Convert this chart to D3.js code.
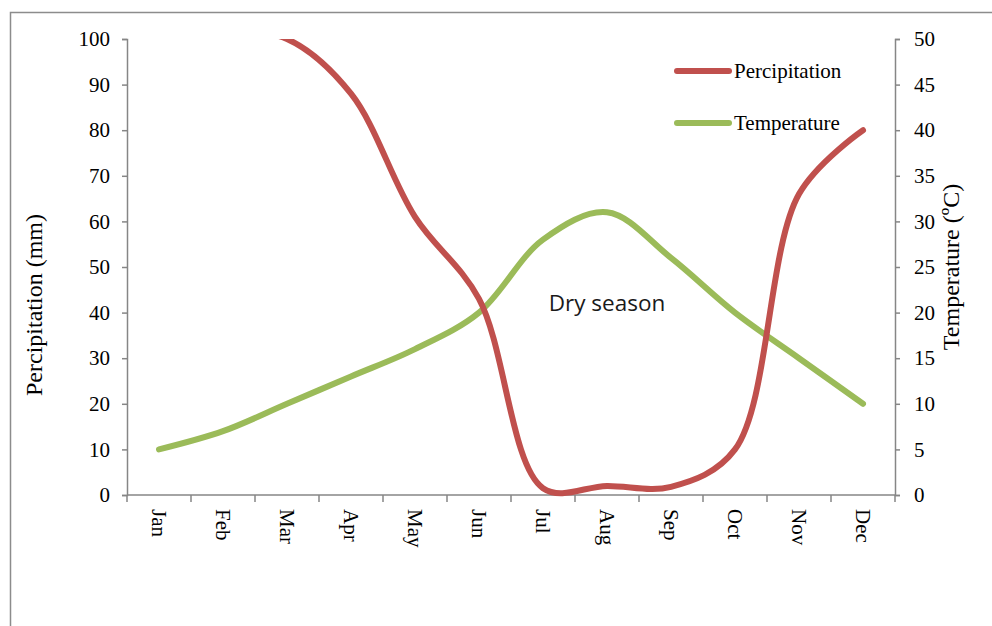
<!DOCTYPE html>
<html>
<head>
<meta charset="utf-8">
<script src="https://cdn.jsdelivr.net/npm/d3@7"></script>
<style>
  html, body { margin: 0; padding: 0; background: #fff; }
  svg { display: block; }
</style>
</head>
<body>
<svg id="chart" width="992" height="626"></svg>
<script>
const months = ["Jan","Feb","Mar","Apr","May","Jun","Jul","Aug","Sep","Oct","Nov","Dec"];
const precipitation = [104, 102, 100, 88, 61, 43, 1.5, 2, 1.8, 10, 66, 80];
const temperature = [5, 7, 10, 13, 16, 20, 28, 31, 26, 20, 15, 10];
const leftTicks = [0, 10, 20, 30, 40, 50, 60, 70, 80, 90, 100];
const rightTicks = [0, 5, 10, 15, 20, 25, 30, 35, 40, 45, 50];
const seriesNames = ["Percipitation", "Temperature"];
const annotation = "Dry season";

const svg = d3.select("#chart");
const m = { left: 127, right: 895, top: 39, bottom: 495 };
const axisColor = "#868686";
const red = "#C0504D", green = "#9BBB59";
const serif = "'Liberation Serif', 'Times New Roman', serif";

// outer frame
svg.append("path").attr("d", "M10.5,626 L10.5,12.5 L992,12.5")
  .attr("fill", "none").attr("stroke", "#8c8c8c").attr("stroke-width", 1.5);

const x = d3.scaleBand().domain(months).range([m.left, m.right]);
const yL = d3.scaleLinear().domain([0, 100]).range([m.bottom, m.top]);
const yR = d3.scaleLinear().domain([0, 50]).range([m.bottom, m.top]);

// left axis
const gl = svg.append("g").attr("transform", `translate(${m.left},0)`)
  .call(d3.axisLeft(yL).tickValues(leftTicks).tickSize(5).tickPadding(12));
// right axis
const gr = svg.append("g").attr("transform", `translate(${m.right},0)`)
  .call(d3.axisRight(yR).tickValues(rightTicks).tickSize(5).tickPadding(14));
[gl, gr].forEach(g => {
  g.select(".domain").attr("stroke", axisColor).attr("stroke-width", 1.5);
  g.selectAll(".tick line").attr("stroke", axisColor).attr("stroke-width", 1.5);
  g.selectAll(".tick text").attr("fill", "#000").style("font-family", serif).style("font-size", "21px");
});

// bottom axis: ticks at band boundaries
const gb = svg.append("g").attr("transform", `translate(0,${m.bottom})`);
gb.append("line").attr("x1", m.left).attr("x2", m.right).attr("y1", 0).attr("y2", 0)
  .attr("stroke", axisColor).attr("stroke-width", 1.5);
const bounds = months.map(d => x(d)).concat([x(months[months.length - 1]) + x.bandwidth()]);
gb.selectAll("line.tk").data(bounds).join("line").attr("class", "tk")
  .attr("x1", d => d).attr("x2", d => d).attr("y1", 0).attr("y2", 7)
  .attr("stroke", axisColor).attr("stroke-width", 1.5);
gb.selectAll("text.mo").data(months).join("text").attr("class", "mo")
  .attr("transform", d => `translate(${x(d) + x.bandwidth() / 2},14) rotate(90)`)
  .attr("dy", "0.35em")
  .attr("text-anchor", "start")
  .style("font-family", serif).style("font-size", "21px")
  .text(d => d);

// axis titles
svg.append("text")
  .attr("transform", `translate(42,${(m.top + m.bottom) / 2 + 38}) rotate(-90)`)
  .attr("text-anchor", "middle")
  .style("font-family", serif).style("font-size", "24px")
  .text("Percipitation (mm)");
svg.append("text")
  .attr("transform", `translate(959,${(m.top + m.bottom) / 2}) rotate(-90)`)
  .attr("text-anchor", "middle")
  .style("font-family", serif).style("font-size", "24px")
  .text("Temperature (ºC)");

// clip
svg.append("clipPath").attr("id", "plotclip").append("rect")
  .attr("x", m.left).attr("y", m.top).attr("width", m.right - m.left).attr("height", m.bottom - m.top + 4);

const cx = d => x(d) + x.bandwidth() / 2;
const lineP = d3.line().x((d, i) => cx(months[i])).y(d => yL(d)).curve(d3.curveCatmullRom.alpha(0.5));
const lineT = d3.line().x((d, i) => cx(months[i])).y(d => yR(d)).curve(d3.curveCatmullRom.alpha(0.5));

const plot = svg.append("g").attr("clip-path", "url(#plotclip)");
plot.append("path").datum(temperature).attr("d", lineT)
  .attr("fill", "none").attr("stroke", green).attr("stroke-width", 6).attr("stroke-linecap", "round").attr("stroke-linejoin", "round");
plot.append("path").datum(precipitation).attr("d", lineP)
  .attr("fill", "none").attr("stroke", red).attr("stroke-width", 6).attr("stroke-linecap", "round").attr("stroke-linejoin", "round");

// legend
const legend = svg.append("g");
const legY = [71, 123];
const legColors = [red, green];
seriesNames.forEach((name, i) => {
  legend.append("line").attr("x1", 677).attr("x2", 729).attr("y1", legY[i]).attr("y2", legY[i])
    .attr("stroke", legColors[i]).attr("stroke-width", 6).attr("stroke-linecap", "round");
  legend.append("text").attr("x", 734).attr("y", legY[i]).attr("dy", "0.33em")
    .style("font-family", serif).style("font-size", "21px").text(name);
});

// annotation
svg.append("text").attr("x", 607).attr("y", 311).attr("text-anchor", "middle")
  .style("font-family", "'Open Sans', sans-serif").style("font-size", "22.5px").attr("fill", "#1a1a1a")
  .text(annotation);
</script>
</body>
</html>
